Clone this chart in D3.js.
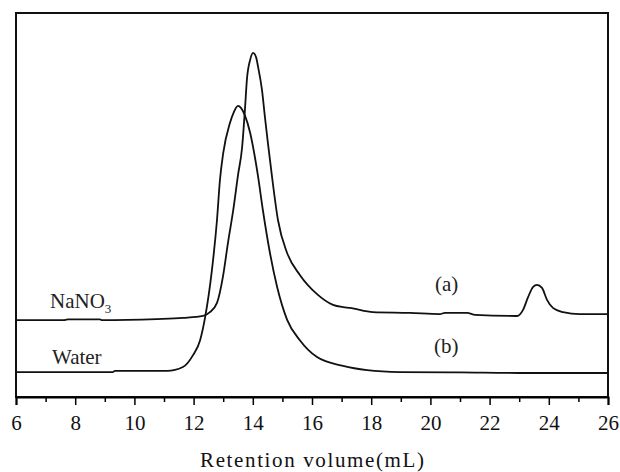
<!DOCTYPE html>
<html>
<head>
<meta charset="utf-8">
<script src="https://cdn.jsdelivr.net/npm/d3@7"></script>
<style>
  body { margin: 0; background: #fff; }
  svg { display: block; }
  svg text { font-family: "Times New Roman", "Liberation Serif", Times, serif; }
</style>
</head>
<body>
<div id="chart"></div>
<script>
var w = 620;
var h = 472;

// retention volume (mL) and detector signal (arbitrary units, 0-100)
const waterVol = [6.00, 9.28, 9.34, 11.10, 11.64, 11.98, 12.22, 12.39, 12.62, 12.79, 12.89, 13.00, 13.23, 13.36, 13.50, 13.60, 13.73, 13.91, 14.07, 14.18, 14.34, 14.58, 14.82, 15.16, 15.59, 16.17, 17.05, 17.86, 18.97, 21.00, 23.03, 26.00];
const waterSig = [6.5, 6.5, 6.8, 6.8, 7.8, 10.9, 14.8, 20.8, 33.1, 46.1, 56.5, 63.5, 71.4, 74.2, 75.8, 75.3, 73.4, 68.8, 62.5, 57.3, 48.7, 37.5, 28.7, 20.1, 14.8, 10.4, 8.1, 7.0, 6.5, 6.4, 6.25, 6.25];

const nitrateVol = [6.00, 7.60, 7.75, 8.84, 8.90, 10.76, 11.64, 12.32, 12.55, 12.79, 12.99, 13.16, 13.34, 13.50, 13.64, 13.74, 13.80, 13.91, 14.01, 14.11, 14.18, 14.31, 14.41, 14.51, 14.65, 14.85, 15.16, 15.59, 16.17, 16.71, 17.05, 17.28, 18.06, 19.31, 20.32, 20.49, 21.24, 21.51, 22.93, 23.13, 23.30, 23.47, 23.60, 23.77, 23.94, 24.14, 24.48, 25.05, 26.00];
const nitrateSig = [20.0, 20.0, 20.2, 20.2, 20.0, 20.3, 20.6, 21.1, 22.1, 24.5, 31.3, 40.1, 48.7, 57.8, 65.1, 75.5, 82.6, 87.8, 89.6, 88.5, 85.9, 80.0, 72.9, 66.2, 57.3, 46.1, 37.5, 31.8, 26.8, 24.0, 23.4, 23.2, 22.1, 21.9, 21.6, 21.9, 21.9, 21.4, 21.1, 22.7, 26.0, 28.7, 29.2, 28.4, 25.3, 23.2, 22.1, 21.6, 21.6];

const xTicks = [6, 8, 10, 12, 14, 16, 18, 20, 22, 24, 26];
const xMinorTicks = [7, 9, 11, 13, 15, 17, 19, 21, 23, 25];

const svg = d3.select("#chart").append("svg").attr("width", w).attr("height", h);

const x = d3.scaleLinear().domain([6, 26]).range([16, 608]);
const y = d3.scaleLinear().domain([0, 100]).range([397, 13]);

// frame
svg.append("rect")
    .attr("x", x(6)).attr("y", y(100))
    .attr("width", x(26) - x(6)).attr("height", y(0) - y(100))
    .attr("fill", "none").attr("stroke", "#111").attr("stroke-width", 2);

// bottom axis
const xAxis = svg.append("g").attr("transform", `translate(0,${y(0)})`)
    .call(d3.axisBottom(x).tickValues(xTicks).tickSize(8).tickPadding(10).tickFormat(d3.format("d")));
xAxis.attr("font-family", null);
xAxis.select(".domain").attr("stroke-width", 2);
xAxis.selectAll(".tick line").attr("stroke-width", 1.5);
xAxis.selectAll("text").attr("font-size", 21).attr("fill", "#111");

svg.append("g").attr("transform", `translate(0,${y(0)})`)
    .call(d3.axisBottom(x).tickValues(xMinorTicks).tickSize(5).tickFormat(""))
    .call(g => g.select(".domain").remove())
    .selectAll(".tick line").attr("stroke-width", 1.5);

svg.append("text")
    .attr("x", 312).attr("y", 467)
    .attr("text-anchor", "middle")
    .attr("font-size", 21)
    .attr("textLength", 224).attr("lengthAdjust", "spacing")
    .attr("fill", "#111")
    .text("Retention volume(mL)");

// curves
const line = d3.line()
    .x(d => x(d[0]))
    .y(d => y(d[1]))
    .curve(d3.curveMonotoneX);

svg.append("path")
    .datum(d3.zip(waterVol, waterSig))
    .attr("d", line)
    .attr("fill", "none").attr("stroke", "#111").attr("stroke-width", 1.8);

svg.append("path")
    .datum(d3.zip(nitrateVol, nitrateSig))
    .attr("d", line)
    .attr("fill", "none").attr("stroke", "#111").attr("stroke-width", 1.8);

// labels
const nano = svg.append("text").attr("x", 50).attr("y", 308).attr("font-size", 21).attr("fill", "#222");
nano.append("tspan").text("NaNO");
nano.append("tspan").attr("font-size", 13).attr("dy", 5).text("3");

svg.append("text").attr("x", 52).attr("y", 364).attr("font-size", 21).attr("fill", "#222").text("Water");

svg.append("text").attr("x", 435).attr("y", 291).attr("font-size", 21).attr("fill", "#222").text("(a)");
svg.append("text").attr("x", 434).attr("y", 353).attr("font-size", 21).attr("fill", "#222").text("(b)");
</script>
</body>
</html>
